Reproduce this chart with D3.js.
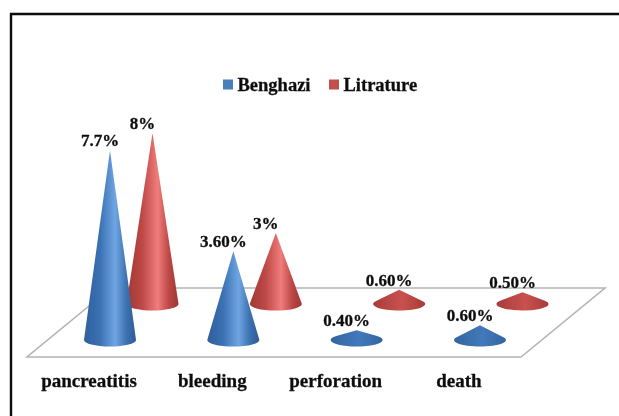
<!DOCTYPE html>
<html>
<head>
<meta charset="utf-8">
<script src="https://cdn.jsdelivr.net/npm/d3@7"></script>
<style>
    html, body { margin: 0; padding: 0; background: #fff; }
    text { font-family: "Liberation Serif", serif; font-weight: bold; fill: #111; stroke: #111; stroke-width: 0.3px; }
</style>
</head>
<body>
<div id="chart"></div>
<script>
var categories = ["pancreatitis", "bleeding", "perforation", "death"];
var seriesNames = ["Benghazi", "Litrature"];
var benghaziValues = [7.7, 3.6, 0.4, 0.6];
var litratureValues = [8, 3, 0.6, 0.5];
var benghaziLabels = ["7.7%", "3.60%", "0.40%", "0.60%"];
var litratureLabels = ["8%", "3%", "0.60%", "0.50%"];

var width = 619, height = 416;

var root = d3.select("#chart").append("svg")
    .attr("width", width)
    .attr("height", height);

var defs = root.append("defs");

// the source is a slightly soft scan
defs.append("filter").attr("id", "soft")
    .attr("filterUnits", "userSpaceOnUse")
    .attr("x", 0).attr("y", 0).attr("width", width).attr("height", height)
    .append("feGaussianBlur").attr("stdDeviation", 0.45);

function coneGradient(id, stops) {
    var g = defs.append("linearGradient").attr("id", id);
    stops.forEach(function (s) {
        g.append("stop").attr("offset", s[0]).attr("stop-color", s[1]);
    });
}
coneGradient("blueCone", [[0, "#2f5f9c"], [0.3, "#3a70b2"], [0.6, "#6fa5e2"], [0.82, "#3c70b0"], [1, "#2d5b96"]]);
coneGradient("redCone", [[0, "#a03836"], [0.3, "#bd4846"], [0.6, "#f07c7b"], [0.82, "#bb4644"], [1, "#9e3735"]]);
// the very flat cones barely show the highlight
coneGradient("blueFlat", [[0, "#33659f"], [0.55, "#4279bb"], [1, "#33659f"]]);
coneGradient("redFlat", [[0, "#a83c3a"], [0.55, "#c9514f"], [1, "#a83c3a"]]);

var svg = root.append("g").attr("filter", "url(#soft)");

// only the top and left edges of the frame are in the picture
svg.append("path")
    .attr("d", d3.line()([[11, height], [11, 14], [width, 14]]))
    .attr("fill", "none")
    .attr("stroke", "#111")
    .attr("stroke-width", 2.4);

// floor of the 3d plot
var floorBack = 288, floorFront = 357;
svg.append("path")
    .attr("d", d3.line()([[27, floorFront], [521, floorFront], [605, floorBack], [111, floorBack]]) + "Z")
    .attr("fill", "#fff")
    .attr("stroke", "#b4b4b4")
    .attr("stroke-width", 1.6);

var x = d3.scalePoint().domain(categories).range([110, 480]);
var depthShift = 42.5, coneRx = 26, coneRy = 6.5;

// heights shrink a bit with the perspective, so each row has its own scale
var hBlue = d3.scaleLinear().domain([0, 8]).range([0, 197]);
var hRed = d3.scaleLinear().domain([0, 3, 8]).range([0, 71, 171]);

// sides run from the apex to the tangent points on the base ellipse
function conePath(cx, base, h) {
    var ty = base - coneRy * coneRy / h;
    var tx = coneRx * Math.sqrt(1 - (coneRy / h) * (coneRy / h));
    return "M" + (cx - tx) + "," + ty +
        "L" + cx + "," + (base - h) +
        "L" + (cx + tx) + "," + ty +
        "A" + coneRx + "," + coneRy + " 0 1 1 " + (cx - tx) + "," + ty + "Z";
}

function drawSeries(values, labels, shift, base, scale, fill) {
    var g = svg.append("g");
    g.selectAll("path").data(categories).enter().append("path")
        .attr("d", function (d, i) { return conePath(x(d) + shift, base, scale(values[i])); })
        .attr("fill", function (d, i) { return "url(#" + fill + (values[i] < 1 ? "Flat" : "Cone") + ")"; });
    g.selectAll("text").data(categories).enter().append("text")
        .attr("x", function (d) { return x(d) + shift - 10; })
        .attr("y", function (d, i) { return base - scale(values[i]) - 4; })
        .attr("text-anchor", "middle")
        .style("font-size", "17px")
        .text(function (d, i) { return labels[i]; });
}

drawSeries(litratureValues, litratureLabels, depthShift, 304, hRed, "red");
drawSeries(benghaziValues, benghaziLabels, 0, 340, hBlue, "blue");

// category labels
svg.selectAll(".cat").data(categories).enter().append("text")
    .attr("class", "cat")
    .attr("x", function (d) { return x(d) - 21; })
    .attr("y", 387)
    .attr("text-anchor", "middle")
    .style("font-size", "19px")
    .text(function (d) { return d; });

// legend
var legendX = [223, 329], legendColor = ["#4a7ebb", "#c0504d"];
seriesNames.forEach(function (name, i) {
    svg.append("rect")
        .attr("x", legendX[i]).attr("y", 79.5)
        .attr("width", 10).attr("height", 10)
        .attr("fill", legendColor[i]);
    svg.append("text")
        .attr("x", legendX[i] + 14.5).attr("y", 91)
        .style("font-size", "18.5px")
        .text(name);
});
</script>
</body>
</html>
